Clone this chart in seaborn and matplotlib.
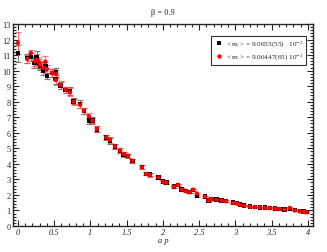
import numpy as np
import pandas as pd
import matplotlib
matplotlib.use("Agg")
import matplotlib.pyplot as plt
import seaborn as sns
from matplotlib.ticker import MultipleLocator

# momenta a*p (shared by both runs)
ap = [0.00, 0.13, 0.18, 0.23, 0.26, 0.29, 0.31, 0.35, 0.38, 0.40,
      0.47, 0.52, 0.53, 0.59, 0.66, 0.72, 0.77, 0.86, 0.91, 0.98,
      1.03, 1.09, 1.22, 1.27, 1.34, 1.41, 1.46, 1.52, 1.58, 1.71,
      1.77, 1.82, 1.94, 2.00, 2.05, 2.15, 2.21, 2.26, 2.32, 2.37,
      2.42, 2.47, 2.58, 2.63, 2.67, 2.74, 2.81, 2.87, 2.97, 3.02,
      3.06, 3.12, 3.20, 3.27, 3.34, 3.41, 3.48, 3.55, 3.61, 3.68,
      3.75, 3.82, 3.89, 3.94, 3.98]

# run 1 (black squares)
m_black = [11.13, 10.80, 10.87, 10.50, 10.87, 10.45, 10.30, 10.00, 10.28, 9.67,
           9.85, 9.45, 9.90, 9.05, 8.75, 8.67, 8.02, 7.85, 7.40, 6.78,
           6.80, 6.22, 5.70, 5.49, 5.12, 4.84, 4.59, 4.50, 4.20, 3.80,
           3.35, 3.30, 3.12, 2.86, 2.80, 2.54, 2.63, 2.35, 2.24, 2.18,
           2.30, 1.95, 1.89, 1.64, 1.74, 1.70, 1.63, 1.59, 1.50, 1.48,
           1.38, 1.32, 1.25, 1.23, 1.20, 1.18, 1.15, 1.12, 1.09, 1.06,
           1.10, 1.02, 0.95, 0.92, 0.89]
err_black = [0.55, 0.30, 0.25, 0.30, 0.40, 0.30, 0.25, 0.30, 0.30, 0.20,
             0.25, 0.30, 0.30, 0.25, 0.20, 0.25, 0.20, 0.25, 0.20, 0.20,
             0.20, 0.20, 0.15, 0.20, 0.15, 0.15, 0.15, 0.12, 0.12, 0.12,
             0.10, 0.10, 0.10, 0.10, 0.08, 0.08, 0.08, 0.08, 0.07, 0.07,
             0.07, 0.07, 0.06, 0.06, 0.06, 0.05, 0.05, 0.05, 0.05, 0.05,
             0.05, 0.04, 0.04, 0.04, 0.04, 0.04, 0.04, 0.04, 0.04, 0.04,
             0.04, 0.04, 0.04, 0.04, 0.04]

# run 2 (red circles)
m_red = [11.78, 10.75, 11.13, 10.60, 10.70, 10.55, 10.36, 10.20, 10.57, 10.10,
         9.85, 9.40, 9.80, 9.07, 8.77, 8.60, 8.00, 7.80, 7.42, 7.06,
         6.78, 6.24, 5.71, 5.55, 5.13, 4.85, 4.63, 4.52, 4.20, 3.78,
         3.35, 3.28, 3.13, 2.85, 2.78, 2.53, 2.64, 2.34, 2.23, 2.17,
         2.34, 2.08, 1.89, 1.63, 1.74, 1.69, 1.63, 1.59, 1.48, 1.45,
         1.37, 1.30, 1.24, 1.22, 1.20, 1.17, 1.16, 1.12, 1.09, 1.05,
         1.16, 1.00, 0.94, 0.91, 0.88]
err_red = [0.70, 0.25, 0.20, 0.30, 0.35, 0.30, 0.25, 0.30, 0.35, 0.25,
           0.25, 0.30, 0.25, 0.25, 0.20, 0.25, 0.20, 0.20, 0.20, 0.20,
           0.20, 0.20, 0.15, 0.20, 0.15, 0.15, 0.15, 0.12, 0.12, 0.12,
           0.10, 0.10, 0.10, 0.10, 0.08, 0.08, 0.08, 0.08, 0.07, 0.07,
           0.07, 0.07, 0.06, 0.06, 0.06, 0.05, 0.05, 0.05, 0.05, 0.05,
           0.05, 0.04, 0.04, 0.04, 0.04, 0.04, 0.04, 0.04, 0.04, 0.04,
           0.04, 0.04, 0.04, 0.04, 0.04]

labels = [r"< m > = 9.0655(55)   10$^{-2}$", r"< m > = 9.06447(65) 10$^{-2}$"]

sns.set_style("ticks")
plt.rcParams['font.family'] = ['Liberation Serif', 'DejaVu Serif']
plt.rcParams['mathtext.fontset'] = 'stix'

df = pd.DataFrame({
    'ap': ap * 2,
    'm': m_black + m_red,
    'err': err_black + err_red,
    'run': [labels[0]] * len(ap) + [labels[1]] * len(ap),
})

fig = plt.figure(figsize=(3.27, 2.53), dpi=100)
ax = fig.add_axes([0.040, 0.103, 0.917, 0.798])

ax.errorbar(ap, m_black, yerr=err_black, fmt='none', ecolor='0.35',
            elinewidth=0.8, capsize=2, capthick=0.8, alpha=0.8, zorder=2)
ax.errorbar(ap, m_red, yerr=err_red, fmt='none', ecolor='#ff5050',
            elinewidth=0.8, capsize=2, capthick=0.8, alpha=0.8, zorder=3)
sns.scatterplot(data=df, x='ap', y='m', hue='run', style='run',
                palette=['black', 'red'], markers=['s', 'o'],
                s=10, linewidth=0, ax=ax, zorder=4)

ax.set_xlim(-0.065, 4.07)
ax.set_ylim(0, 13)
ax.xaxis.set_major_locator(MultipleLocator(0.5))
ax.xaxis.set_minor_locator(MultipleLocator(0.1))
ax.yaxis.set_major_locator(MultipleLocator(1))
ax.yaxis.set_minor_locator(MultipleLocator(0.2))
ax.tick_params(which='both', direction='in', top=True, right=True,
               labelsize=6, pad=1.5, width=0.8)
ax.tick_params(which='major', length=4)
ax.tick_params(which='minor', length=2)
ax.set_xticklabels([f"{v:g}" for v in ax.get_xticks()], fontstyle='italic')
for s in ax.spines.values():
    s.set_linewidth(1.0)

ax.set_xlabel("a p", fontsize=6, fontstyle='italic', labelpad=0)
ax.set_ylabel("")
ax.set_title("β = 0.9", fontsize=6, pad=7)

leg = ax.legend(loc='upper right', bbox_to_anchor=(0.978, 0.94), fontsize=5.2,
                frameon=True, fancybox=False, edgecolor='black',
                handletextpad=0.2, borderpad=0.4, labelspacing=0.3,
                handlelength=1.5, borderaxespad=0, markerscale=1.0)
leg.get_frame().set_linewidth(0.8)

fig.savefig("out.png", dpi=100)
